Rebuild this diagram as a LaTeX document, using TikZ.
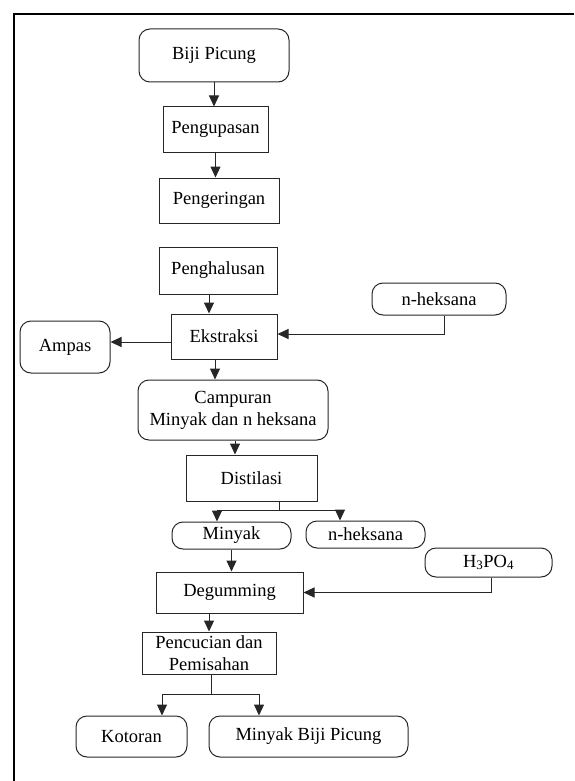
\documentclass[tikz,border=0pt]{standalone}
\usepackage{fontspec}
\setmainfont{Liberation Serif}
\usetikzlibrary{arrows.meta}
\begin{document}
\begin{tikzpicture}[x=1pt,y=-1pt,
  base/.style={draw=black!85,line width=1pt,inner sep=0pt,align=center,
    font=\fontsize{18.5}{22}\selectfont},
  box/.style={base},
  rbox/.style={base,rounded corners=11pt},
  arr/.style={draw=black!85,line width=1pt,-{Triangle[length=11pt,width=10pt]}},
  ln/.style={draw=black!85,line width=1pt}]
\useasboundingbox (0,0) rectangle (574,781);
\draw[line width=2pt] (14,781) -- (14,14) -- (574,14);

\node[rbox,minimum width=150pt,minimum height=53pt] (bp) at (214,55.5) {Biji Picung};
\node[box,minimum width=105pt,minimum height=45pt] (pu) at (215.5,129.5) {Pengupasan};
\node[box,minimum width=120pt,minimum height=45pt] (pk) at (219,200.5) {Pengeringan};
\node[box,minimum width=118pt,minimum height=47pt] (ph) at (218,270.5) {Penghalusan};
\node[box,minimum width=106pt,minimum height=45pt] (ek) at (224,336.5) {Ekstraksi};
\node[rbox,minimum width=90pt,minimum height=52pt] (amp) at (65,347) {Ampas};
\node[rbox,minimum width=134pt,minimum height=32pt] (nh1) at (439,299) {n-heksana};
\node[rbox,minimum width=190pt,minimum height=60pt] (cm) at (233,410) {Campuran\\Minyak dan n heksana};
\node[box,minimum width=131pt,minimum height=46pt] (ds) at (251.5,478) {Distilasi};
\node[rbox,minimum width=119pt,minimum height=27pt] (mn) at (231.5,535.5) {Minyak};
\node[rbox,minimum width=119pt,minimum height=27pt] (nh2) at (365.5,534.5) {n-heksana};
\node[rbox,minimum width=127pt,minimum height=29pt] (h3) at (488.5,562.5) {H\textsubscript{3}PO\textsubscript{4}};
\node[box,minimum width=147pt,minimum height=41pt] (dg) at (229.5,592.5) {Degumming};
\node[box,minimum width=134pt,minimum height=42pt] (pc) at (209,653) {Pencucian dan\\Pemisahan};
\node[rbox,minimum width=111pt,minimum height=41pt] (kt) at (131.5,736.5) {Kotoran};
\node[rbox,minimum width=199pt,minimum height=41pt] (mbp) at (308.5,736.5) {Minyak Biji Picung};

% vertical main arrows
\draw[arr] (bp.south) -- (bp.south |- pu.north);
\draw[arr] (pu.south) -- (pu.south |- pk.north);
\coordinate (a3) at ([xshift=-9pt]ph.south);
\draw[arr] (a3) -- (a3 |- ek.north);
\coordinate (a4) at ([xshift=-9pt]ek.south);
\draw[arr] (a4) -- (a4 |- cm.north);
\coordinate (a5) at ([xshift=2pt]cm.south);
\draw[arr] (a5) -- (a5 |- ds.north);
\draw[arr] (mn.south) -- (mn.south |- dg.north);
\draw[arr] (pc.north |- dg.south) -- (pc.north);

% Ekstraksi side connections
\coordinate (e1) at ([yshift=-5.5pt]ek.west);
\draw[arr] (e1) -- (e1 -| amp.east);
\coordinate (n1) at ([xshift=5pt]nh1.south);
\coordinate (e2) at ([yshift=2.5pt]ek.east);
\draw[arr] (n1) -- (n1 |- e2) -- (e2);

% Distilasi split
\coordinate (d0) at ([xshift=27.5pt]ds.south);
\coordinate (d1) at ([xshift=-14.5pt]mn.north);
\coordinate (d2) at ([xshift=-25.5pt]nh2.north);
\draw[ln] (d0) -- ++(0,9) coordinate (dj);
\draw[arr] (dj) -| (d1);
\draw[arr] (dj) -| (d2);

% H3PO4 to Degumming
\coordinate (h1) at ([xshift=2.5pt]h3.south);
\draw[arr] (h1) -- (h1 |- dg.east) -- (dg.east);

% Pencucian split
\coordinate (p1) at ([xshift=30.5pt]kt.north);
\coordinate (p2) at ([xshift=-49.5pt]mbp.north);
\draw[ln] ([xshift=2pt]pc.south) -- ++(0,20) coordinate (pj);
\draw[arr] (pj) -| (p1);
\draw[arr] (pj) -| (p2);
\end{tikzpicture}
\end{document}
